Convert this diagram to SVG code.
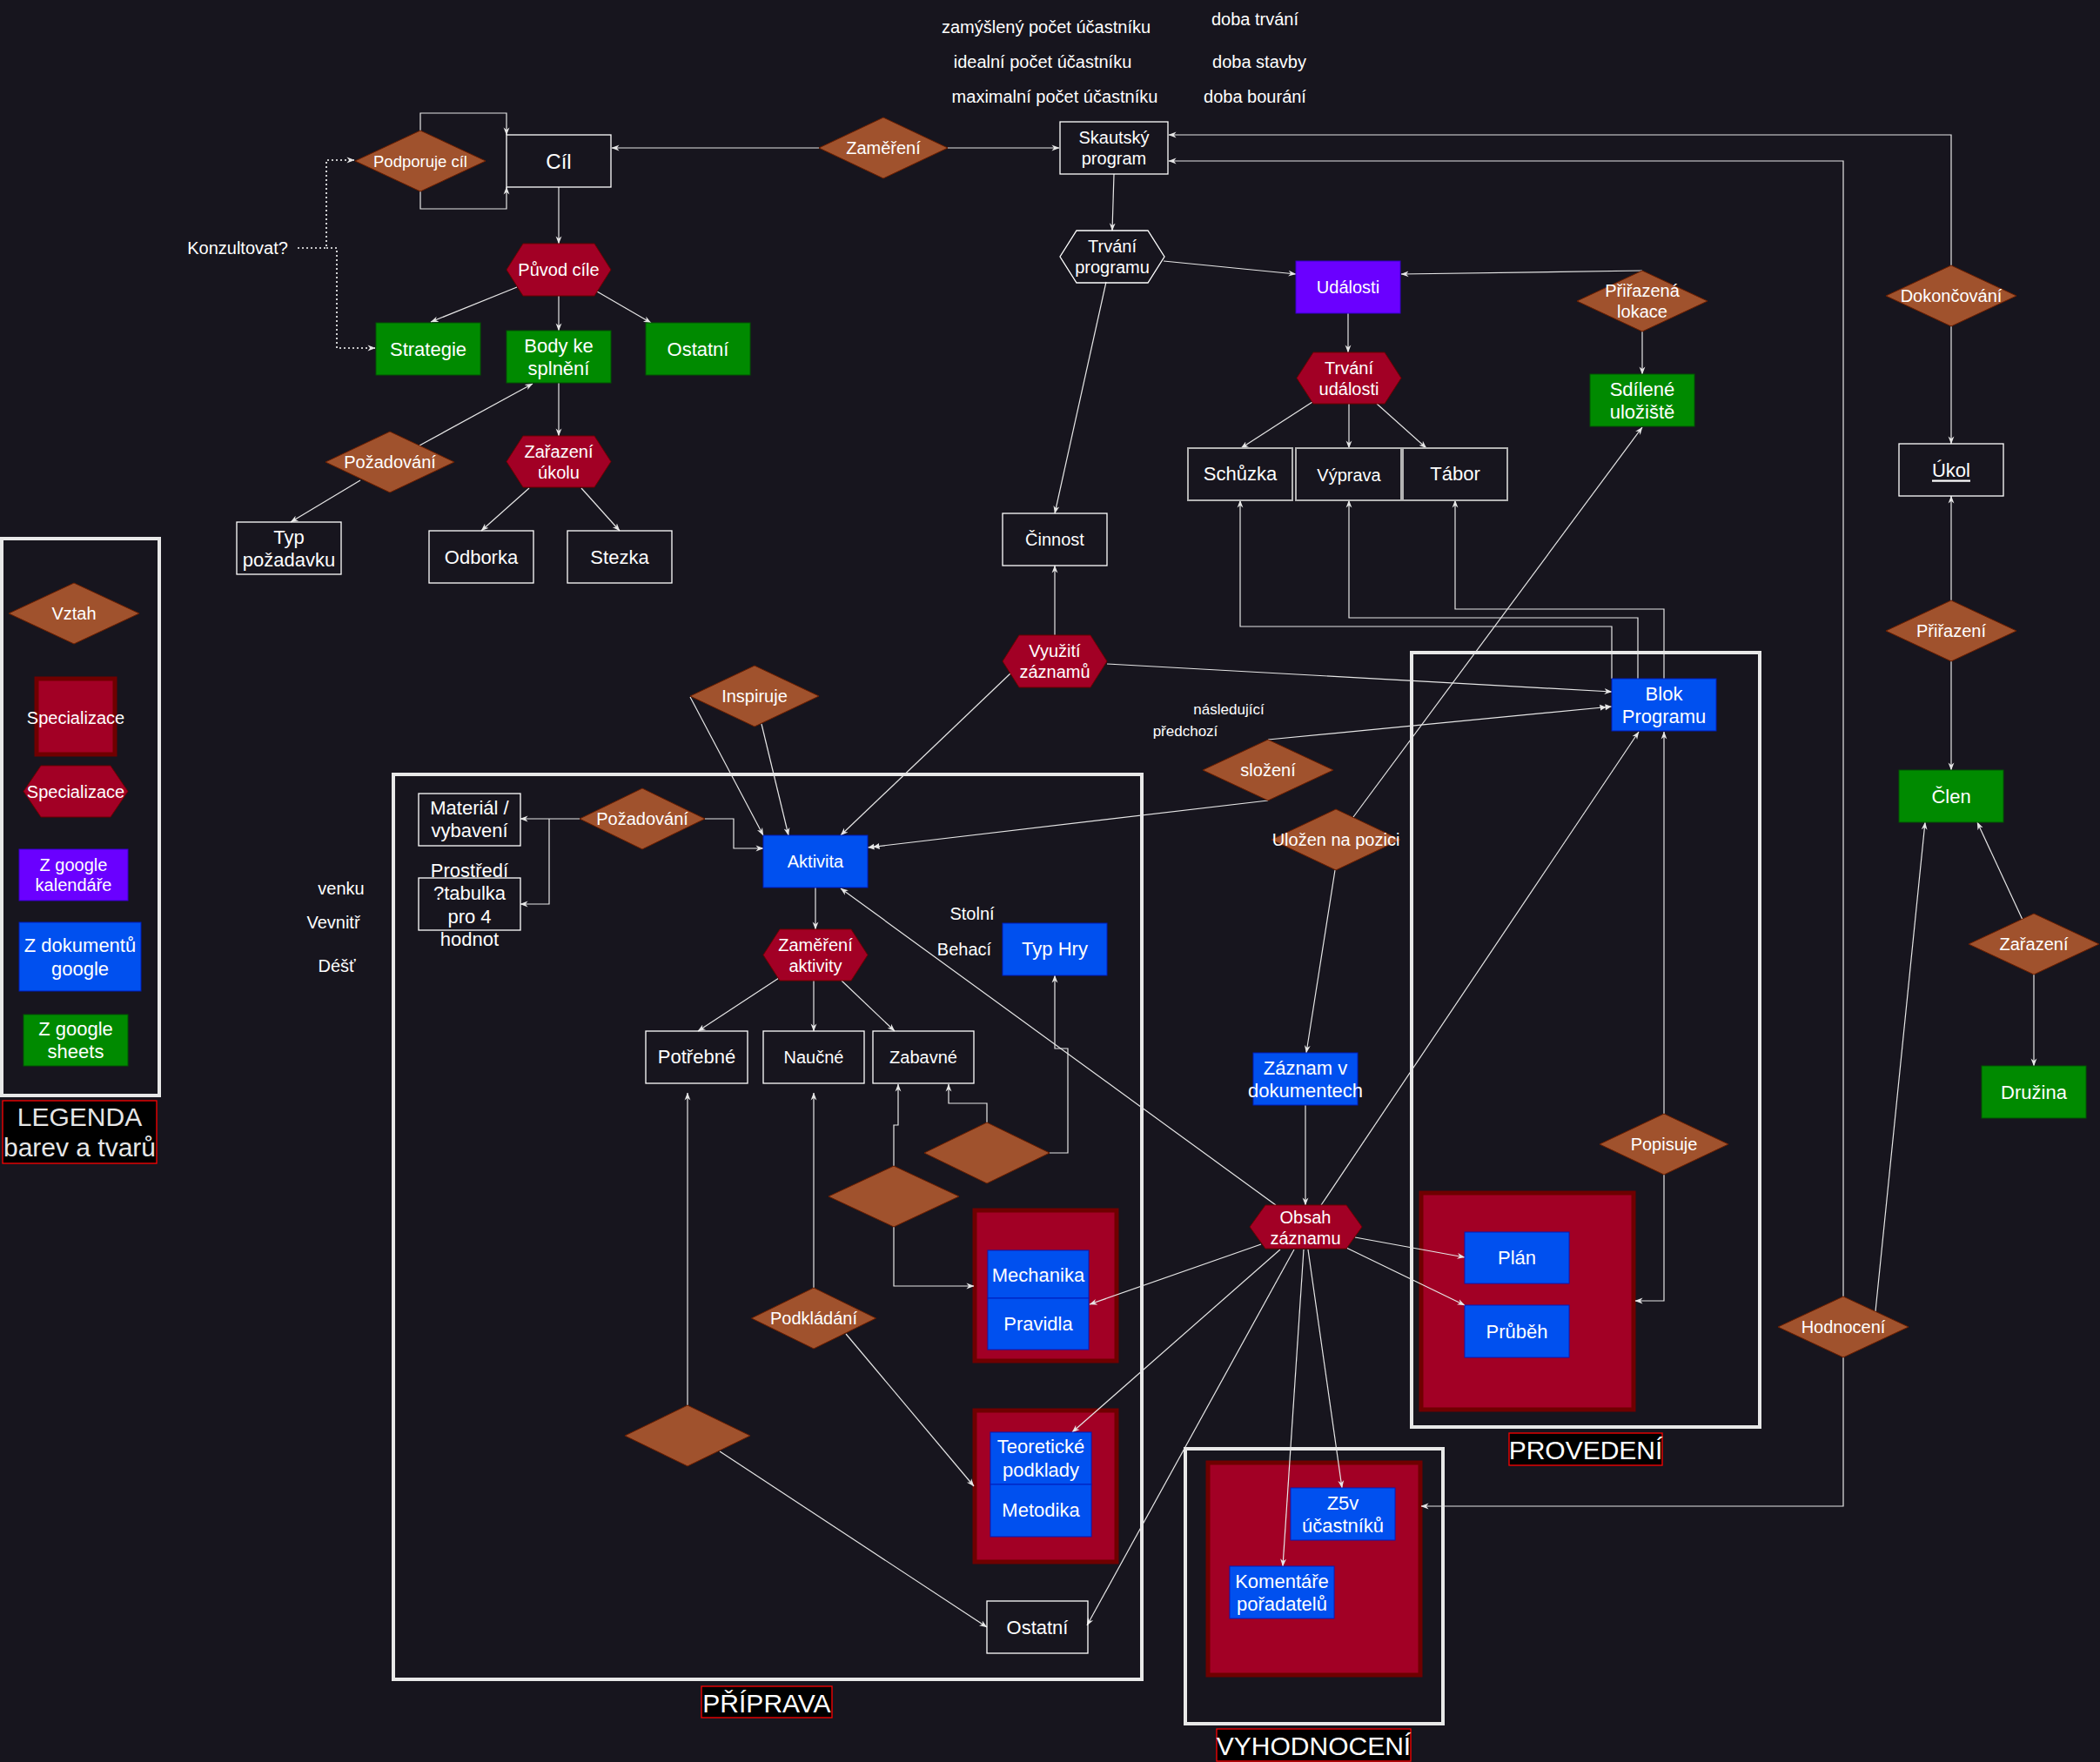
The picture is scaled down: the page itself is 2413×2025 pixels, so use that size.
<svg xmlns="http://www.w3.org/2000/svg" width="2413" height="2025" viewBox="0 0 2413 2025">
<defs>
<marker id="a" viewBox="0 0 10 10" refX="9.5" refY="5" markerWidth="9" markerHeight="9" markerUnits="userSpaceOnUse" orient="auto"><path d="M0,1.2 L10,5 L0,8.8 L3,5 z" fill="#e6e6e6"/></marker>
<marker id="aa" viewBox="0 0 16 10" refX="15.5" refY="5" markerWidth="14" markerHeight="9" markerUnits="userSpaceOnUse" orient="auto"><path d="M0,1 L8,5 L0,9 z M7,1 L15,5 L7,9 z" fill="#e6e6e6"/></marker>
<style>
text{font-family:"Liberation Sans",Arial,Helvetica,sans-serif;fill:#ffffff;text-anchor:middle;dominant-baseline:central}
.f18{font-size:18.5px}.f20{font-size:20px}.f22{font-size:22px}.f24{font-size:24px}.f17{font-size:17px}.f30{font-size:30px}
.dia{fill:#a0522d;stroke:#6d1f00;stroke-width:1}
.cri{fill:#a20025;stroke:#6f0000;stroke-width:1}
.crib{fill:#a20025;stroke:#6f0000;stroke-width:5}
.blu{fill:#0050ef;stroke:#001dbc;stroke-width:1}
.pur{fill:#6a00ff;stroke:#3700cc;stroke-width:1}
.grn{fill:#008a00;stroke:#005700;stroke-width:1}
.wb{fill:none;stroke:#ffffff;stroke-width:1.3}
.gb{fill:none;stroke:#b3b3b3;stroke-width:2}
.cont{fill:none;stroke:#e8e8e8;stroke-width:4}
.lab{fill:#000000;stroke:#ff0000;stroke-width:1.3}
.c path{fill:none;stroke:#e6e6e6;stroke-width:1.2}
.c path.e{marker-end:url(#a)}
.c path.d{marker-end:url(#aa)}
.c path.dot{stroke:#ffffff;stroke-width:1.6;stroke-dasharray:2 3}
</style>
</defs>
<rect x="0" y="0" width="2413" height="2025" fill="#17151e"/>

<!-- containers -->
<g id="priprava-container"><rect class="cont" x="452" y="890" width="860" height="1040"/><rect class="lab" x="806" y="1938" width="150" height="36"/><text class="f30" x="881" y="1957">PŘÍPRAVA</text></g>
<g id="provedeni-container"><rect class="cont" x="1622" y="750" width="400" height="890"/><rect class="crib" x="1633" y="1371" width="244" height="249"/><rect class="lab" x="1734" y="1647" width="176" height="37"/><text class="f30" x="1822" y="1666">PROVEDENÍ</text></g>
<g id="vyhodnoceni-container"><rect class="cont" x="1362" y="1665" width="296" height="316"/><rect class="crib" x="1388" y="1681" width="244" height="244"/><rect class="lab" x="1398" y="1987" width="223" height="37"/><text class="f30" x="1509.5" y="2006">VYHODNOCENÍ</text></g>
<g id="mechanika-container"><rect class="crib" x="1120" y="1391" width="163" height="173"/></g>
<g id="teorie-container"><rect class="crib" x="1120" y="1621" width="163" height="174"/></g>

<!-- legend -->
<g id="legenda">
<rect class="cont" x="2" y="619" width="181" height="640"/>
<polygon class="dia" points="10,705 85,670 160,705 85,740"/><text class="f20" x="85" y="705">Vztah</text>
<rect class="crib" x="42" y="780" width="90" height="87"/><text class="f20" x="87" y="825">Specializace</text>
<polygon class="cri" points="47,880 127,880 147,909.5 127,939 47,939 27,909.5"/><text class="f20" x="87" y="909.5">Specializace</text>
<rect class="pur" x="22" y="976" width="125" height="59"/><text class="f20" x="84.5" y="994">Z google</text><text class="f20" x="84.5" y="1017">kalendáře</text>
<rect class="blu" x="22" y="1060" width="140" height="79"/><text class="f22" x="92" y="1086">Z dokumentů</text><text class="f22" x="92" y="1113">google</text>
<rect class="grn" x="27" y="1166" width="120" height="59"/><text class="f22" x="87" y="1182">Z google</text><text class="f22" x="87" y="1208">sheets</text>
<rect class="lab" x="3" y="1265" width="177" height="72"/><text class="f30" x="91.5" y="1283" style="fill:#e6e6e6">LEGENDA</text><text class="f30" x="91.5" y="1318" style="fill:#e6e6e6">barev a tvarů</text>
</g>

<!-- connectors -->
<g id="connectors" class="c">
<path class="e" d="M941,170 L703,170"/>
<path class="e" d="M1089,170 L1217,170"/>
<path class="e" d="M483,150 V130 H582 V155"/>
<path class="e" d="M483,220 V240 H582 V215"/>
<path class="dot e" d="M342,285 H375 V184 H407"/>
<path class="dot e" d="M375,285 H387 V400 H431"/>
<path class="e" d="M642,215 V280"/>
<path class="e" d="M594,330 L495,370"/>
<path class="e" d="M642,340 V380"/>
<path class="e" d="M686,335 L748,371"/>
<path class="e" d="M642,440 V501"/>
<path class="e" d="M482,512 L612,441"/>
<path class="e" d="M414,552 L334,600"/>
<path class="e" d="M608,561 L553,610"/>
<path class="e" d="M668,561 L712,610"/>
<path class="e" d="M1280,200 L1278,265"/>
<path class="e" d="M1337,300 L1489,315"/>
<path class="e" d="M1549,360 V405"/>
<path class="e" d="M1508,462 L1426,515"/>
<path class="e" d="M1550,464 V515"/>
<path class="e" d="M1582,464 L1639,515"/>
<path class="e" d="M1271,324 L1212,590"/>
<path class="e" d="M1887,311 L1610,315"/>
<path class="e" d="M1887,381 V430"/>
<path class="e" d="M1555,939 L1887,491"/>
<path class="e" d="M2242,305 V155 H1343"/>
<path class="e" d="M2242,375 V510"/>
<path class="e" d="M2242,690 V570"/>
<path class="e" d="M2242,760 V885"/>
<path class="e" d="M2324,1057 L2272,945"/>
<path class="e" d="M2337,1120 V1225"/>
<path class="e" d="M2118,1490 V185 H1343"/>
<path class="e" d="M2118,1560 V1731 H1633"/>
<path class="e" d="M2155,1507 L2212,945"/>
<path class="e" d="M1912,780 V700 H1672 V575"/>
<path class="e" d="M1882,780 V710 H1550 V575"/>
<path class="e" d="M1852,780 V720 H1425 V575"/>
<path class="e" d="M1212,730 V650"/>
<path class="e" d="M1272,763 L1852,795"/>
<path class="d" d="M1457,850 L1852,812"/>
<path class="d" d="M1457,920 L997,974"/>
<path class="e" d="M793,801 L877,960"/>
<path class="e" d="M875,832 L906,960"/>
<path class="e" d="M1161,774 L966,960"/>
<path class="e" d="M666,941 H598"/>
<path class="e" d="M631,941 V1039 H598"/>
<path class="e" d="M810,941 H843 V975 H877"/>
<path class="e" d="M937,1020 V1068"/>
<path class="e" d="M895,1124 L802,1185"/>
<path class="e" d="M935,1127 V1185"/>
<path class="e" d="M967,1127 L1028,1185"/>
<path class="e" d="M1466,1385 L966,1021"/>
<path class="e" d="M1134,1290 V1268 H1090 V1246"/>
<path class="e" d="M1206,1325 H1227 V1205 H1212 V1121"/>
<path class="e" d="M1027,1340 V1293 H1032 V1246"/>
<path class="e" d="M1027,1410 V1478 H1119"/>
<path class="e" d="M935,1480 V1256"/>
<path class="e" d="M972,1533 L1119,1708"/>
<path class="e" d="M790,1615 V1256"/>
<path class="e" d="M827,1668 L1134,1870"/>
<path class="e" d="M1534,1000 L1501,1210"/>
<path class="e" d="M1500,1270 V1385"/>
<path class="e" d="M1518,1385 L1883,841"/>
<path class="e" d="M1557,1422 L1683,1445"/>
<path class="e" d="M1547,1434 L1683,1500"/>
<path class="e" d="M1503,1436 L1542,1710"/>
<path class="e" d="M1498,1436 L1474,1800"/>
<path class="e" d="M1449,1430 L1252,1499"/>
<path class="e" d="M1471,1436 L1232,1646"/>
<path class="e" d="M1487,1436 L1249,1868"/>
<path class="e" d="M1912,1280 V841"/>
<path class="e" d="M1912,1350 V1495 H1879"/>
</g>

<!-- free texts -->
<g id="labels">
<text class="f20" x="1202" y="31">zamýšlený počet účastníku</text>
<text class="f20" x="1198" y="71">idealní počet účastníku</text>
<text class="f20" x="1212" y="111">maximalní počet účastníku</text>
<text class="f20" x="1442" y="22">doba trvání</text>
<text class="f20" x="1447" y="71">doba stavby</text>
<text class="f20" x="1442" y="111">doba bourání</text>
<text class="f20" x="273" y="285">Konzultovat?</text>
<text class="f17" x="1412" y="815">následující</text>
<text class="f17" x="1362" y="840">předchozí</text>
<text class="f20" x="392" y="1021">venku</text>
<text class="f20" x="383" y="1060">Vevnitř</text>
<text class="f20" x="387" y="1110">Déšť</text>
<text class="f20" x="1117" y="1050">Stolní</text>
<text class="f20" x="1108" y="1091">Behací</text>
</g>

<!-- nodes -->
<g id="cil"><rect class="wb" x="582" y="155" width="120" height="60"/><text class="f24" x="642" y="185">Cíl</text></g>
<g id="podporuje-cil"><polygon class="dia" points="408,185 483,150 558,185 483,220"/><text class="f18" x="483" y="185">Podporuje cíl</text></g>
<g id="zamereni"><polygon class="dia" points="941,170 1015,135 1089,170 1015,205"/><text class="f20" x="1015" y="170">Zaměření</text></g>
<g id="skautsky-program"><rect class="wb" x="1218" y="140" width="124" height="60"/><text class="f20" x="1280" y="158">Skautský</text><text class="f20" x="1280" y="182">program</text></g>
<g id="puvod-cile"><polygon class="cri" points="601,280 683,280 702,310 683,340 601,340 582,310"/><text class="f20" x="642" y="310">Původ cíle</text></g>
<g id="strategie"><rect class="grn" x="432" y="371" width="120" height="60"/><text class="f22" x="492" y="401">Strategie</text></g>
<g id="body-ke-splneni"><rect class="grn" x="582" y="380" width="120" height="60"/><text class="f22" x="642" y="397">Body ke</text><text class="f22" x="642" y="423">splnění</text></g>
<g id="ostatni-cil"><rect class="grn" x="742" y="371" width="120" height="60"/><text class="f22" x="802" y="401">Ostatní</text></g>
<g id="pozadovani-1"><polygon class="dia" points="374,531 448,496 522,531 448,566"/><text class="f20" x="448" y="531">Požadování</text></g>
<g id="zarazeni-ukolu"><polygon class="cri" points="601,501 683,501 702,530.5 683,560 601,560 582,530.5"/><text class="f20" x="642" y="518.5">Zařazení</text><text class="f20" x="642" y="542.5">úkolu</text></g>
<g id="typ-pozadavku"><rect class="wb" x="272" y="600" width="120" height="60"/><text class="f22" x="332" y="617">Typ</text><text class="f22" x="332" y="643">požadavku</text></g>
<g id="odborka"><rect class="wb" x="493" y="610" width="120" height="60"/><text class="f22" x="553" y="640">Odborka</text></g>
<g id="stezka"><rect class="wb" x="652" y="610" width="120" height="60"/><text class="f22" x="712" y="640">Stezka</text></g>

<g id="trvani-programu"><polygon class="wb" points="1237,265 1319,265 1338,295 1319,325 1237,325 1218,295"/><text class="f20" x="1278" y="283">Trvání</text><text class="f20" x="1278" y="307">programu</text></g>
<g id="udalosti"><rect class="pur" x="1489" y="300" width="120" height="60"/><text class="f20" x="1549" y="330">Události</text></g>
<g id="trvani-udalosti"><polygon class="cri" points="1509,405 1591,405 1610,434.5 1591,464 1509,464 1490,434.5"/><text class="f20" x="1550" y="422.5">Trvání</text><text class="f20" x="1550" y="446.5">události</text></g>
<g id="schuzka"><rect class="gb" x="1365" y="515" width="120" height="60"/><text class="f22" x="1425" y="544">Schůzka</text></g>
<g id="vyprava"><rect class="gb" x="1489" y="515" width="121" height="60"/><text class="f20" x="1550" y="546">Výprava</text></g>
<g id="tabor"><rect class="gb" x="1612" y="515" width="120" height="60"/><text class="f22" x="1672" y="544">Tábor</text></g>
<g id="cinnost"><rect class="wb" x="1152" y="590" width="120" height="60"/><text class="f20" x="1212" y="620">Činnost</text></g>
<g id="prirazena-lokace"><polygon class="dia" points="1812,346 1887,311 1962,346 1887,381"/><text class="f20" x="1887" y="334">Přiřazená</text><text class="f20" x="1887" y="358">lokace</text></g>
<g id="sdilene-uloziste"><rect class="grn" x="1827" y="430" width="120" height="60"/><text class="f22" x="1887" y="447">Sdílené</text><text class="f22" x="1887" y="473">uložiště</text></g>
<g id="dokoncovani"><polygon class="dia" points="2167,340 2242,305 2317,340 2242,375"/><text class="f20" x="2242" y="340">Dokončování</text></g>
<g id="ukol"><rect class="wb" x="2182" y="510" width="120" height="60"/><text class="f22" x="2242" y="540" text-decoration="underline">Úkol</text></g>
<g id="prirazeni"><polygon class="dia" points="2167,725 2242,690 2317,725 2242,760"/><text class="f20" x="2242" y="725">Přiřazení</text></g>
<g id="clen"><rect class="grn" x="2182" y="885" width="120" height="60"/><text class="f22" x="2242" y="915">Člen</text></g>
<g id="zarazeni"><polygon class="dia" points="2262,1085 2337,1050 2412,1085 2337,1120"/><text class="f20" x="2337" y="1085">Zařazení</text></g>
<g id="druzina"><rect class="grn" x="2277" y="1225" width="120" height="60"/><text class="f22" x="2337" y="1255">Družina</text></g>
<g id="hodnoceni"><polygon class="dia" points="2043,1525 2118,1490 2193,1525 2118,1560"/><text class="f20" x="2118" y="1525">Hodnocení</text></g>

<g id="blok-programu"><rect class="blu" x="1852" y="780" width="120" height="60"/><text class="f22" x="1912" y="797">Blok</text><text class="f22" x="1912" y="823">Programu</text></g>
<g id="vyuziti-zaznamu"><polygon class="cri" points="1171,730 1253,730 1272,760 1253,790 1171,790 1152,760"/><text class="f20" x="1212" y="748">Využití</text><text class="f20" x="1212" y="772">záznamů</text></g>
<g id="slozeni"><polygon class="dia" points="1382,885 1457,850 1532,885 1457,920"/><text class="f20" x="1457" y="885">složení</text></g>
<g id="ulozen-na-pozici"><polygon class="dia" points="1461,965 1535,930 1609,965 1535,1000"/><text class="f20" x="1535" y="965">Uložen na pozici</text></g>
<g id="zaznam-v-dokumentech"><rect class="blu" x="1440" y="1210" width="120" height="60"/><text class="f22" x="1500" y="1227">Záznam v</text><text class="f22" x="1500" y="1253">dokumentech</text></g>
<g id="obsah-zaznamu"><polygon class="cri" points="1454,1385 1547,1385 1565,1410 1547,1435 1454,1435 1436,1410"/><text class="f20" x="1500" y="1398.5">Obsah</text><text class="f20" x="1500" y="1422.5">záznamu</text></g>
<g id="plan"><rect class="blu" x="1683" y="1416" width="120" height="59"/><text class="f22" x="1743" y="1445.5">Plán</text></g>
<g id="prubeh"><rect class="blu" x="1683" y="1500" width="120" height="60"/><text class="f22" x="1743" y="1530">Průběh</text></g>
<g id="popisuje"><polygon class="dia" points="1838,1315 1912,1280 1986,1315 1912,1350"/><text class="f20" x="1912" y="1315">Popisuje</text></g>
<g id="z5v-ucastniku"><rect class="blu" x="1483" y="1710" width="120" height="60"/><text class="f22" x="1543" y="1727">Z5v</text><text class="f22" x="1543" y="1753">účastníků</text></g>
<g id="komentare-poradatelu"><rect class="blu" x="1413" y="1800" width="120" height="60"/><text class="f22" x="1473" y="1817">Komentáře</text><text class="f22" x="1473" y="1843">pořadatelů</text></g>

<g id="inspiruje"><polygon class="dia" points="793,800 867,765 941,800 867,835"/><text class="f20" x="867" y="800">Inspiruje</text></g>
<g id="material"><rect class="wb" x="481" y="912" width="117" height="60"/><text class="f22" x="539.5" y="928">Materiál /</text><text class="f22" x="539.5" y="954">vybavení</text></g>
<g id="prostredi"><rect class="wb" x="481" y="1009" width="117" height="60"/><text class="f22" x="539.5" y="1000">Prostředí</text><text class="f22" x="539.5" y="1026.5">?tabulka</text><text class="f22" x="539.5" y="1053">pro 4</text><text class="f22" x="539.5" y="1079.5">hodnot</text></g>
<g id="pozadovani-2"><polygon class="dia" points="666,941 738,906 810,941 738,976"/><text class="f20" x="738" y="941">Požadování</text></g>
<g id="aktivita"><rect class="blu" x="877" y="960" width="120" height="60"/><text class="f20" x="937" y="990">Aktivita</text></g>
<g id="zamereni-aktivity"><polygon class="cri" points="896,1068 978,1068 997,1097.5 978,1127 896,1127 877,1097.5"/><text class="f20" x="937" y="1085.5">Zaměření</text><text class="f20" x="937" y="1109.5">aktivity</text></g>
<g id="potrebne"><rect class="wb" x="742" y="1185" width="117" height="60"/><text class="f22" x="800.5" y="1214">Potřebné</text></g>
<g id="naucne"><rect class="wb" x="877" y="1185" width="116" height="60"/><text class="f20" x="935" y="1215">Naučné</text></g>
<g id="zabavne"><rect class="wb" x="1003" y="1185" width="116" height="60"/><text class="f20" x="1061" y="1215">Zabavné</text></g>
<g id="typ-hry"><rect class="blu" x="1152" y="1061" width="120" height="60"/><text class="f22" x="1212" y="1090">Typ Hry</text></g>
<g id="vztah-a"><polygon class="dia" points="1062,1325 1134,1290 1206,1325 1134,1360"/></g>
<g id="vztah-b"><polygon class="dia" points="952,1375 1027,1340 1102,1375 1027,1410"/></g>
<g id="podkladani"><polygon class="dia" points="863.5,1515 935,1480 1006.5,1515 935,1550"/><text class="f20" x="935" y="1515">Podkládání</text></g>
<g id="vztah-c"><polygon class="dia" points="718,1650 790,1615 862,1650 790,1685"/></g>
<g id="mechanika"><rect class="blu" x="1135" y="1437" width="116" height="55"/><text class="f22" x="1193" y="1465">Mechanika</text></g>
<g id="pravidla"><rect class="blu" x="1135" y="1492" width="116" height="59"/><text class="f22" x="1193" y="1521">Pravidla</text></g>
<g id="teoreticke-podklady"><rect class="blu" x="1138" y="1646" width="116" height="60"/><text class="f22" x="1196" y="1662">Teoretické</text><text class="f22" x="1196" y="1689">podklady</text></g>
<g id="metodika"><rect class="blu" x="1138" y="1706" width="116" height="60"/><text class="f22" x="1196" y="1735">Metodika</text></g>
<g id="ostatni-priprava"><rect class="wb" x="1134" y="1840" width="116" height="60"/><text class="f22" x="1192" y="1870">Ostatní</text></g>
</svg>
